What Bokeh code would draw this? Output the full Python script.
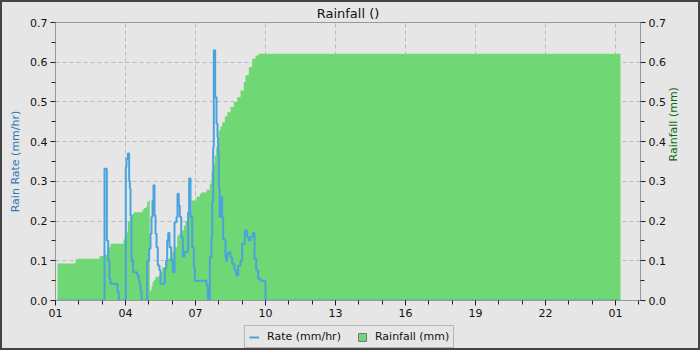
import math
from bokeh.plotting import figure
from bokeh.layouts import column
from bokeh.models import (LinearAxis, Range1d, FixedTicker, Legend, LegendItem,
                          PrintfTickFormatter, ColumnDataSource)
from bokeh.embed import file_html
from bokeh.resources import INLINE

# ---- data (hour of day, value) ----
rain_hours = [1.086, 1.857, 1.943, 2.886, 3.057, 3.259, 3.357, 3.914, 3.957, 4.043,
              4.1, 4.186, 4.287, 4.356, 4.729, 4.784, 4.887, 4.93, 4.986, 5.041,
              5.114, 5.157, 5.213, 5.286, 5.427, 5.5, 5.573, 5.714, 5.787, 5.929,
              6.0, 6.1, 6.216, 6.259, 6.387, 6.499, 6.571, 6.644, 6.713, 6.829,
              7.043, 7.184, 7.244, 7.471, 7.613, 7.686, 7.759, 7.827, 7.887, 7.943,
              8.0, 8.071, 8.144, 8.256, 8.359, 8.5, 8.641, 8.787, 8.929, 9.07,
              9.143, 9.284, 9.43, 9.571, 9.713, 25.214]
rain_mm = [0.093, 0.103, 0.105, 0.112, 0.115, 0.134, 0.143, 0.153, 0.16, 0.172,
           0.199, 0.21, 0.218, 0.222, 0.228, 0.233, 0.237, 0.248, 0.252, 0.025,
           0.035, 0.046, 0.052, 0.06, 0.063, 0.071, 0.084, 0.097, 0.105, 0.109,
           0.122, 0.134, 0.161, 0.166, 0.176, 0.189, 0.2, 0.212, 0.222, 0.252,
           0.262, 0.268, 0.272, 0.279, 0.294, 0.325, 0.344, 0.365, 0.386, 0.41,
           0.428, 0.438, 0.449, 0.463, 0.474, 0.487, 0.5, 0.512, 0.529, 0.55,
           0.567, 0.588, 0.609, 0.617, 0.621, 0.621]

rate_hours = [1.086, 3.1, 3.2, 3.257, 3.314, 3.357, 3.657, 3.713, 4.013, 4.043,
              4.1, 4.157, 4.186, 4.214, 4.257, 4.33, 4.5, 4.57, 4.61, 4.64,
              4.686, 4.93, 5.014, 5.071, 5.114, 5.157, 5.2, 5.243, 5.286, 5.329,
              5.384, 5.457, 5.5, 5.684, 5.743, 5.786, 5.829, 5.886, 5.959, 6.027,
              6.1, 6.186, 6.229, 6.284, 6.327, 6.387, 6.456, 6.527, 6.684, 6.727,
              6.786, 6.857, 6.927, 6.97, 7.471, 7.527, 7.613, 7.686, 7.714, 7.757,
              7.784, 7.843, 7.9, 7.943, 7.971, 8.0, 8.03, 8.06, 8.086, 8.114,
              8.143, 8.186, 8.256, 8.284, 8.314, 8.357, 8.427, 8.5, 8.571, 8.67,
              8.743, 8.83, 8.929, 9.0, 9.113, 9.214, 9.284, 9.357, 9.457, 9.529,
              9.6, 9.686, 9.786, 10.0, 25.214]
rate_mmhr = [0.0, 0.332, 0.151, 0.1, 0.055, 0.042, 0.021, 0.0, 0.336, 0.357,
             0.37, 0.302, 0.282, 0.214, 0.1, 0.071, 0.063, 0.05, 0.042, 0.025,
             0.0, 0.1, 0.13, 0.168, 0.21, 0.252, 0.29, 0.214, 0.168, 0.134,
             0.088, 0.076, 0.042, 0.08, 0.1, 0.151, 0.17, 0.134, 0.1, 0.071,
             0.197, 0.21, 0.269, 0.239, 0.21, 0.16, 0.111, 0.122, 0.222, 0.307,
             0.21, 0.134, 0.084, 0.05, 0.038, 0.0, 0.109, 0.16, 0.248, 0.386,
             0.63, 0.512, 0.445, 0.411, 0.369, 0.285, 0.21, 0.26, 0.21, 0.26,
             0.21, 0.155, 0.151, 0.109, 0.1, 0.118, 0.122, 0.109, 0.092, 0.076,
             0.063, 0.088, 0.1, 0.143, 0.176, 0.16, 0.151, 0.16, 0.17, 0.105,
             0.076, 0.055, 0.05, 0.0, 0.0]

x_tick_values = [1, 4, 7, 10, 13, 16, 19, 22, 25]
x_tick_labels = ["01", "04", "07", "10", "13", "16", "19", "22", "01"]
y_ticks = [0.0, 0.1, 0.2, 0.3, 0.4, 0.5, 0.6, 0.7]

FONT = "DejaVu Sans"
BG = "#e6e6e6"
GREEN = "#6fd874"
BLUE = "#4aa3dc"

p = figure(width=696, height=322, x_range=Range1d(1, 26.07), y_range=Range1d(0, 0.7),
           output_backend="svg", toolbar_location=None,
           min_border_left=53, min_border_right=58, min_border_top=20, min_border_bottom=24,
           background_fill_color=BG, border_fill_color=BG)
p.title.text = "Rainfall ()"
p.title.align = "center"
p.title.vertical_align = "top"
p.title.text_font = FONT
p.title.text_font_size = "13px"
p.title.text_font_style = "normal"
p.title.text_color = "#111111"
p.title.standoff = 0
p.outline_line_color = "#999999"

p.extra_y_ranges = {"right": Range1d(0, 0.7)}
right_axis = LinearAxis(y_range_name="right")
p.add_layout(right_axis, "right")

rain_src = ColumnDataSource(dict(x=rain_hours, y=rain_mm))
rate_src = ColumnDataSource(dict(x=rate_hours, y=rate_mmhr))

p.varea_step(x="x", y1=0, y2="y", step_mode="after", source=rain_src,
             fill_color=GREEN, y_range_name="right")
p.step(x="x", y="y", mode="after", source=rate_src, line_color=BLUE, line_width=2)

for ax in [p.xaxis[0], p.yaxis[0], right_axis]:
    ax.axis_line_color = "#999999"
    ax.major_tick_line_color = "#222222"
    ax.minor_tick_line_color = "#222222"
    ax.major_tick_out = 5
    ax.major_tick_in = 0
    ax.minor_tick_out = 4
    ax.minor_tick_in = 0
    ax.major_label_text_font = FONT
    ax.major_label_text_font_size = "11px"
    ax.major_label_text_color = "#111111"
    ax.axis_label_text_font = FONT
    ax.axis_label_text_font_size = "11px"
    ax.axis_label_text_font_style = "normal"

p.xaxis[0].ticker = FixedTicker(ticks=x_tick_values, minor_ticks=list(range(1, 27)))
p.xaxis[0].major_label_overrides = {v: l for v, l in zip(x_tick_values, x_tick_labels)}
p.xaxis[0].major_label_standoff = 3

for ax in [p.yaxis[0], right_axis]:
    ax.ticker = FixedTicker(ticks=y_ticks, minor_ticks=[0.05 + 0.1 * i for i in range(7)])
    ax.formatter = PrintfTickFormatter(format="%.1f")
    ax.major_label_standoff = 3

p.yaxis[0].axis_label = "Rain Rate (mm/hr)"
p.yaxis[0].axis_label_text_color = "#2a78bb"
right_axis.axis_label = "Rainfall (mm)"
right_axis.axis_label_text_color = "#0c6a0c"
right_axis.axis_label_orientation = math.pi / 2

p.xgrid.ticker = FixedTicker(ticks=x_tick_values)
p.ygrid.ticker = FixedTicker(ticks=y_ticks)
for g in [p.xgrid, p.ygrid]:
    g.grid_line_color = "#bbbbbb"
    g.grid_line_dash = "4 3"

# ---- legend strip ----
lf = figure(width=696, height=24, x_range=Range1d(0, 1), y_range=Range1d(0, 1),
            output_backend="svg", toolbar_location=None, min_border=0,
            x_axis_type=None, y_axis_type=None,
            background_fill_color=BG, border_fill_color=BG, outline_line_color=None)
lf.xgrid.visible = False
lf.ygrid.visible = False
# proxy glyphs placed outside the visible range, only used for legend icons
leg_line = lf.line(x=[-5, -4], y=[-5, -5], line_color=BLUE, line_width=2)
leg_box = lf.quad(left=[-5], right=[-4], top=[-4], bottom=[-5],
                  fill_color=GREEN, line_color="#777777")

legend = Legend(items=[LegendItem(label="Rate (mm/hr)", renderers=[leg_line]),
                       LegendItem(label="Rainfall (mm)", renderers=[leg_box])],
                orientation="horizontal", location=(189, 0))
legend.label_text_font = FONT
legend.label_text_font_size = "11px"
legend.label_text_color = "#111111"
legend.background_fill_color = BG
legend.background_fill_alpha = 1
legend.border_line_color = "#888888"
legend.glyph_width = 10
legend.glyph_height = 10
legend.padding = 4
legend.spacing = 16
legend.margin = 0
legend.label_standoff = 8
legend.label_height = 12
lf.add_layout(legend, "center")

layout = column(p, lf, spacing=0, styles={"border": "2px solid #444444",
                                          "background-color": BG})

open("out.html", "w").write(file_html(layout, INLINE))
